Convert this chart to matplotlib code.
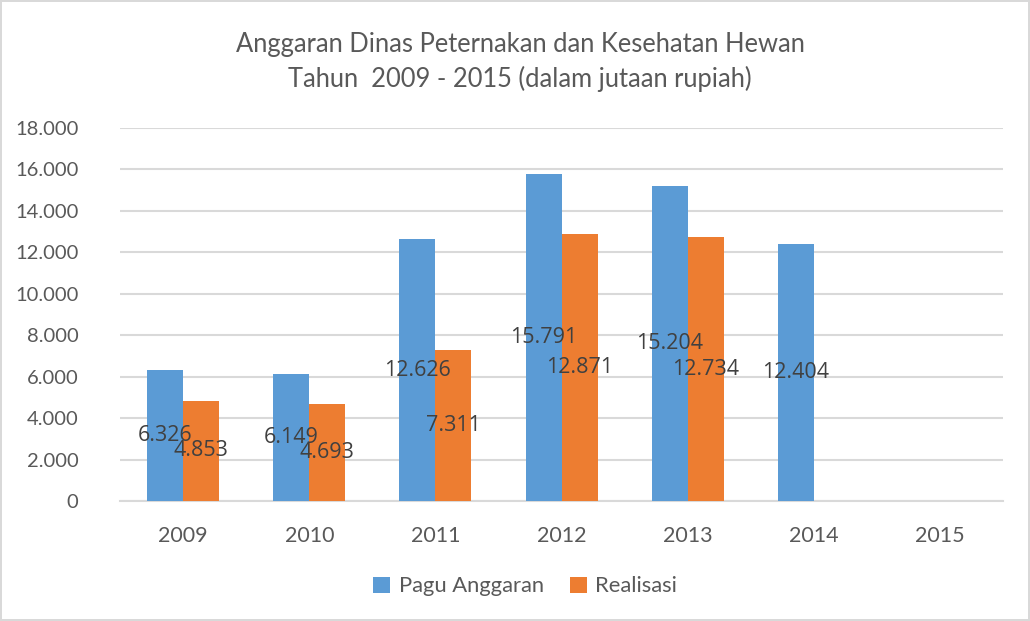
import matplotlib.pyplot as plt
import numpy as np
from matplotlib.ticker import FuncFormatter

years = ['2009', '2010', '2011', '2012', '2013', '2014', '2015']
pagu = [6326, 6149, 12626, 15791, 15204, 12404, 0]
realisasi = [4853, 4693, 7311, 12871, 12734, 0, 0]

blue = '#5B9BD5'
orange = '#ED7D31'
grey = '#595959'

fig = plt.figure(figsize=(10.30, 6.21), dpi=100)
fig.patch.set_edgecolor('#D9D9D9')
fig.patch.set_linewidth(1.5)
ax = fig.add_axes([0.1165, 0.193, 0.8575, 0.601])

x = np.arange(len(years))
w = 0.285
b1 = ax.bar(x - w / 2, pagu, w, color=blue, label='Pagu Anggaran', zorder=3)
b2 = ax.bar(x + w / 2, realisasi, w, color=orange, label='Realisasi', zorder=3)

# labels sit in the middle of each bar, dot as thousands separator
fmt = lambda v: '' if v == 0 else '{:,.0f}'.format(v).replace(',', '.')
for bars, vals in [(b1, pagu), (b2, realisasi)]:
    ax.bar_label(bars, labels=[fmt(v) for v in vals], label_type='center',
                 fontsize=15.5, color='#404040', family='Open Sans', zorder=5)

ax.set_xlim(-0.5, len(years) - 0.5)
ax.set_ylim(0, 18000)
ax.set_yticks(np.arange(0, 18001, 2000))
ax.yaxis.set_major_formatter(FuncFormatter(lambda v, p: '{:,.0f}'.format(v).replace(',', '.')))
ax.set_xticks(x)
ax.set_xticklabels(years)
ax.grid(axis='y', color='#D9D9D9', linewidth=1.5, zorder=0)
for s in ['top', 'right', 'left']:
    ax.spines[s].set_visible(False)
ax.spines['bottom'].set_color('#D9D9D9')
ax.spines['bottom'].set_linewidth(1.5)
ax.tick_params(axis='both', length=0, labelcolor=grey)
ax.tick_params(axis='x', labelsize=15.5, pad=18)
ax.tick_params(axis='y', labelsize=14.5, pad=30)
for t in ax.get_xticklabels() + ax.get_yticklabels():
    t.set_family('Lato')

fig.text(0.505, 0.900, 'Anggaran Dinas Peternakan dan Kesehatan Hewan\nTahun  2009 - 2015 (dalam jutaan rupiah)',
         ha='center', va='center', fontsize=18.4, color=grey, family='Lato', linespacing=1.45)

fig.legend(loc='center', bbox_to_anchor=(0.51, 0.056), ncol=2, frameon=False,
           prop={'family': 'Lato', 'size': 15.8}, labelcolor=grey,
           handlelength=0.75, handleheight=0.75, handletextpad=0.4, columnspacing=1.2)

fig.savefig('out.png', dpi=100)
